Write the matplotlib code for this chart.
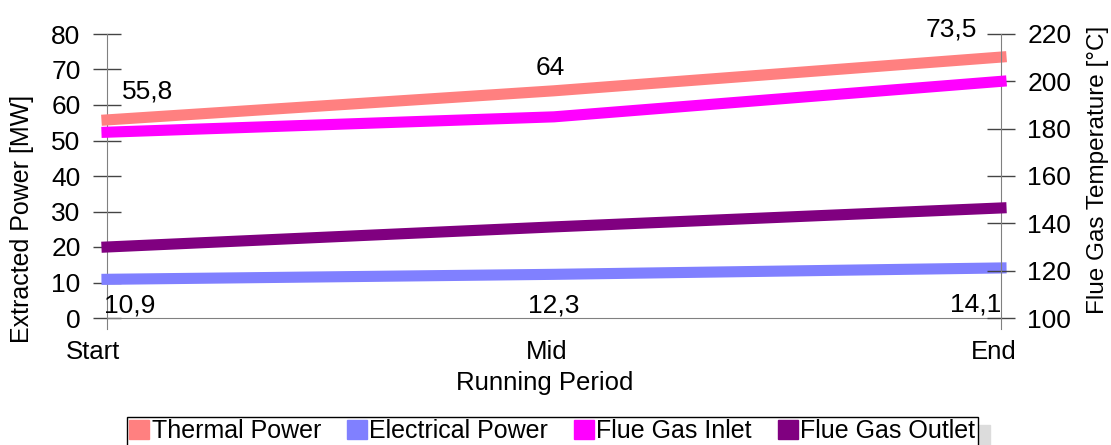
import matplotlib
matplotlib.use("Agg")
import matplotlib.pyplot as plt
from matplotlib.patches import Patch
from matplotlib.transforms import ScaledTranslation

plt.rcParams['font.family'] = ['Liberation Sans', 'DejaVu Sans']

periods = ["Start", "Mid", "End"]
thermal_power = [55.8, 64.0, 73.5]
electrical_power = [10.9, 12.3, 14.1]
flue_gas_inlet = [178.5, 185.0, 200.0]
flue_gas_outlet = [130.0, 138.5, 146.5]

c_thermal = "#ff8080"
c_elec = "#8080ff"
c_inlet = "#ff00ff"
c_outlet = "#800080"

FS = 19

fig = plt.figure(figsize=(11.11, 4.45), dpi=100)
ax = fig.add_axes([107/1111, 1-318/445, (1001-107)/1111, (318-34)/445])
ax2 = ax.twinx()

x = list(range(len(periods)))
lw = 8
ax.plot(x, thermal_power, color=c_thermal, lw=lw, solid_capstyle='projecting', zorder=3, clip_on=False)
ax.plot(x, electrical_power, color=c_elec, lw=lw, solid_capstyle='projecting', zorder=3, clip_on=False)
ax2.plot(x, flue_gas_inlet, color=c_inlet, lw=lw, solid_capstyle='projecting', zorder=3, clip_on=False)
ax2.plot(x, flue_gas_outlet, color=c_outlet, lw=lw, solid_capstyle='projecting', zorder=3, clip_on=False)

ax.set_xlim(0, 2)
ax.set_ylim(0, 80)
ax2.set_ylim(100, 220)
ax.set_yticks(range(0, 81, 10))
ax2.set_yticks(range(100, 221, 20))
ax.set_xticks(x)
ax.set_xticklabels(periods)

def fmt(v):
    return ("%g" % v).replace(".", ",")

# data labels (offsets in points)
offs_top = [(11, 12, 'left'), (-3, 8, 'center'), (-17, 11, 'right')]
offs_bot = [(-2, -10, 'left'), (0, -14, 'center'), (0, -18, 'right')]
for i, v in enumerate(thermal_power):
    dx, dy, ha = offs_top[i]
    ax.annotate(fmt(v), (x[i], v), xytext=(dx, dy), textcoords='offset points',
                ha=ha, va='bottom', fontsize=FS, zorder=5)
for i, v in enumerate(electrical_power):
    dx, dy, ha = offs_bot[i]
    ax.annotate(fmt(v), (x[i], v), xytext=(dx, dy), textcoords='offset points',
                ha=ha, va='top', fontsize=FS, zorder=5)

spine_col = "#808080"
for a in (ax, ax2):
    for s in a.spines.values():
        s.set_visible(False)
    a.tick_params(colors='black', labelsize=FS, length=0)
    a.set_facecolor('none')

ax.spines['bottom'].set_visible(True)
ax.spines['bottom'].set_color(spine_col)
ax.spines['left'].set_visible(True)
ax.spines['left'].set_color(spine_col)
ax.spines['left'].set_bounds(-3, 80)
ax2.spines['right'].set_visible(True)
ax2.spines['right'].set_color(spine_col)
ax2.spines['right'].set_bounds(100 - 4.5, 220)

ax.tick_params(axis='y', direction='inout', length=20, width=1, color='#444444', pad=9)
ax2.tick_params(axis='y', direction='inout', length=20, width=1, color='#444444', pad=9)
ax.tick_params(axis='x', direction='out', length=12, width=1, color=spine_col, pad=4,
               labelsize=18.5)
for t in ax.get_xticklines():
    t.set_visible(False)

# slight horizontal shifts of category labels as in the reference
shifts_px = [-14, -7, -7]
for lab, s in zip(ax.get_xticklabels(), shifts_px):
    lab.set_transform(lab.get_transform() + ScaledTranslation(s / 100, 0, fig.dpi_scale_trans))

ax.set_ylabel("Extracted Power [MW]", fontsize=18)
ax.yaxis.set_label_coords((34 - 107) / 894, (318 - 219) / 284)
ax2.set_ylabel("Flue Gas Temperature [°C]", fontsize=17.5)
ax2.yaxis.set_label_coords((1087 - 107) / 894, (318 - 170) / 284)
ax.set_xlabel("Running Period", fontsize=18.5)
ax.xaxis.set_label_coords((545 - 107) / 894, -(383 - 318) / 284)
ax.xaxis.label.set_va('center')

handles = [Patch(color=c_thermal), Patch(color=c_elec), Patch(color=c_inlet), Patch(color=c_outlet)]
labels = ["Thermal Power", "Electrical Power", "Flue Gas Inlet", "Flue Gas Outlet"]
leg = fig.legend(handles, labels, loc='center', bbox_to_anchor=(552/1111, 1-431/445),
                 ncol=4, fontsize=18, frameon=True, fancybox=False,
                 shadow={'ox': 9, 'oy': -6, 'color': '#dcdcdc', 'alpha': 1},
                 handlelength=0.8, handleheight=0.8, handletextpad=0.1, columnspacing=1.03,
                 borderpad=0.1, borderaxespad=0)
leg.get_frame().set_edgecolor('black')
leg.get_frame().set_linewidth(1.0)

fig.savefig("out.png", dpi=100)
